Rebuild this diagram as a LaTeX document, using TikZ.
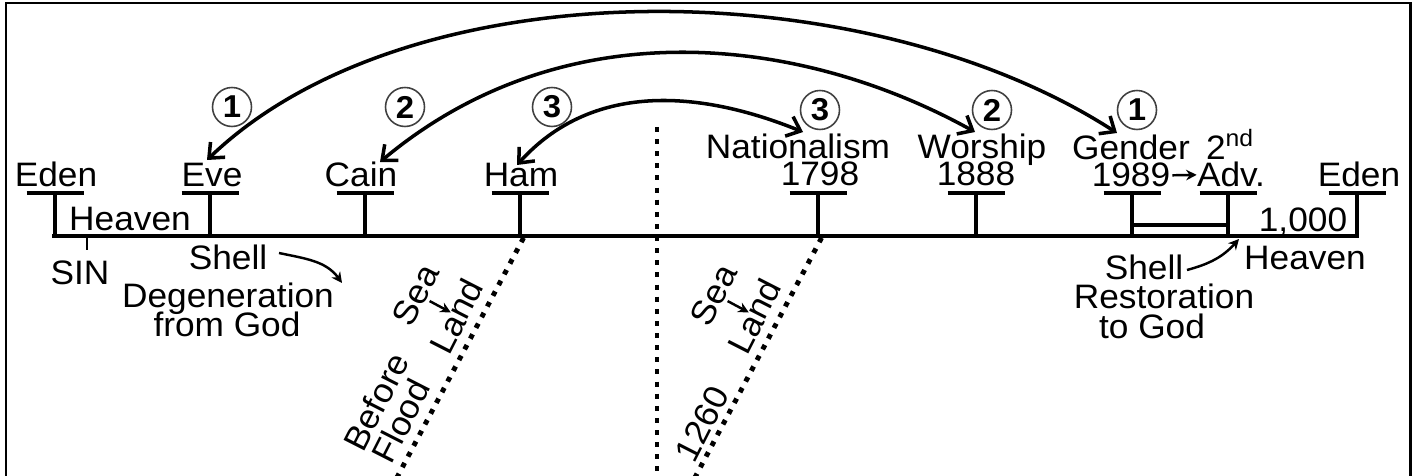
\documentclass[tikz,border=0pt]{standalone}
\usepackage{fontspec}
\setmainfont{Liberation Sans}[FakeStretch=1.04]
\usetikzlibrary{arrows.meta}
\begin{document}
\begin{tikzpicture}[x=0.02cm,y=0.02cm,
  lbl/.style={inner sep=0pt, anchor=base, font=\fontsize{19.3}{22}\selectfont},
  tick/.style={line width=2.8pt},
  barline/.style={line width=2.5pt},
  num/.style={circle, draw=black!75, line width=0.9pt, minimum size=0.78cm, inner sep=0pt, font=\fontsize{18}{18}\selectfont\bfseries},
  bigarrow/.style={line width=2pt, {Straight Barb[length=7pt,width=12pt]}-{Straight Barb[length=7pt,width=12pt]}},
  smallarr/.style={line width=1.4pt, -{Stealth[length=6pt,width=6pt]}},
  dots/.style={line width=2.8pt, dash pattern=on 2.8pt off 4.1pt},
]
\useasboundingbox (0,0) rectangle (1417,-476);
% frame
\draw[line width=1.7pt] (6,-476) -- (6,-3) -- (1410,-3) -- (1410,-476);
% main line
\coordinate (mainL) at (52,-236);
\coordinate (mainR) at (1359,-236);
\draw[line width=2.3pt] (mainL) -- (mainR);
% T ticks
\foreach \x/\n in {55/edenL,210/eve,365/cain,520/ham,818/y1798,976/y1888,1132/y1989,1228/adv,1357/edenR}{
  \coordinate (\n) at (\x,-236);
  \draw[tick] (\n) -- ++(0,45);
  \draw[barline] (\x-28.5,-193) -- (\x+28.5,-193);
}
% SIN tick
\coordinate (sinb) at (87,-236);
\draw[line width=1pt] (sinb) -- ++(0,-14);
% double line 1989 - Adv
\coordinate (d1) at (1132,-225);
\coordinate (d2) at (1228,-225);
\draw[line width=1.8pt] (d1) -- (d2);
% labels
\node[lbl] (tEdenL) at (56,-187) {Eden};
\node[lbl] (tEve) at (212,-187) {Eve};
\node[lbl] (tCain) at (361,-187) {Cain};
\node[lbl] (tHam) at (521,-187) {Ham};
\node[lbl] (tNat) at (798,-159) {Nationalism};
\node[lbl] (t1798) at (820,-186) {1798};
\node[lbl] (tWor) at (982,-159) {Worship};
\node[lbl] (t1888) at (976,-186) {1888};
\node[lbl] (tGen) at (1131,-160) {Gender};
\node[lbl] (t1989) at (1131,-187) {1989};
\node[lbl] (t2nd) at (1230,-160) {2\textsuperscript{nd}};
\node[lbl] (tAdv) at (1231,-187) {Adv.};
\node[lbl] (tEdenR) at (1359,-187) {Eden};
\node[lbl] (tHeavL) at (130,-231) {Heaven};
\node[lbl] (t1000) at (1303,-232) {1,000};
\node[lbl] (tHeavR) at (1305,-270) {Heaven};
\node[lbl] (tSIN) at (80,-285) {SIN};
\node[lbl] (tShellL) at (228,-270) {Shell};
\node[lbl] (tDegen) at (228,-308) {Degeneration};
\node[lbl] (tFrom) at (227,-337) {from God};
\node[lbl] (tShellR) at (1144,-280) {Shell};
\node[lbl] (tRest) at (1164,-309) {Restoration};
\node[lbl] (tTo) at (1152,-338) {to God};
% circled numbers
\node[num] (c1L) at (232,-107) {1};
\node[num] (c2L) at (405,-107) {2};
\node[num] (c3L) at (552,-107) {3};
\node[num] (c3R) at (820,-110) {3};
\node[num] (c2R) at (992,-110) {2};
\node[num] (c1R) at (1137,-110) {1};
% big arrows
\coordinate (a1s) at (207,-160);
\coordinate (a1e) at (1117,-133);
\coordinate (a2s) at (380,-162);
\coordinate (a2e) at (975,-132);
\coordinate (a3s) at (517,-165);
\coordinate (a3e) at (803,-132);
\draw[bigarrow] (a1s) .. controls (410,35) and (865,30) .. (a1e);
\draw[bigarrow] (a2s) .. controls (564,-8) and (800,-35) .. (a2e);
\draw[bigarrow] (a3s) .. controls (591,-83) and (697,-89) .. (a3e);
% small arrows
\draw[smallarr, shorten <=1pt] (t1989.east) -- (tAdv.west);
\coordinate (sl1) at (279,-253);
\coordinate (sl2) at (342,-283);
\draw[smallarr] (sl1) to[out=-12,in=126] (sl2);
\coordinate (sr1) at (1187,-270);
\coordinate (sr2) at (1239,-239);
\draw[smallarr] (sr1) to[out=15,in=228] (sr2);
% vertical dotted divider
\coordinate (dv1) at (657,-127);
\coordinate (dv2) at (657,-476);
\draw[dots] (dv1) -- (dv2);
% diagonal from Ham
\begin{scope}[shift={(ham)}, rotate=63]
  \coordinate (hd) at (-272,0);
  \draw[dots] (0,-4) -- (hd);
  \node[lbl, anchor=center, transform shape] (sea1) at (-100,66) {Sea};
  \node[lbl, anchor=center, transform shape] (land1) at (-100.5,20.5) {Land};
  \coordinate (sa1) at (-99,51);
  \coordinate (sa2) at (-99.5,27);
  \draw[smallarr] (sa1) -- (sa2);
  \node[lbl, anchor=center, transform shape] (before) at (-213,53) {Before};
  \node[lbl, anchor=center, transform shape] (flood) at (-219,22) {Flood};
\end{scope}
% diagonal from 1798
\begin{scope}[shift={(y1798)}, rotate=63]
  \coordinate (nd) at (-272,0);
  \draw[dots] (0,-4) -- (nd);
  \node[lbl, anchor=center, transform shape] (sea2) at (-100,66) {Sea};
  \node[lbl, anchor=center, transform shape] (land2) at (-100.5,20.5) {Land};
  \coordinate (sb1) at (-99,51);
  \coordinate (sb2) at (-99.5,27);
  \draw[smallarr] (sb1) -- (sb2);
  \node[lbl, anchor=center, transform shape] (y1260) at (-220,18) {1260};
\end{scope}
\end{tikzpicture}
\end{document}
